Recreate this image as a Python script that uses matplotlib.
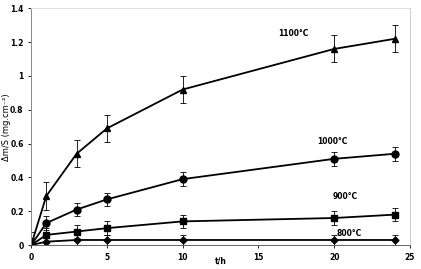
import matplotlib.pyplot as plt
from matplotlib.ticker import FormatStrFormatter

# time (h)
t = [0, 1, 3, 5, 10, 20, 24]

# mass gain per area (mg.cm-2) for each temperature
m_1100 = [0.0, 0.29, 0.54, 0.69, 0.92, 1.16, 1.22]
m_1000 = [0.0, 0.13, 0.21, 0.27, 0.39, 0.51, 0.54]
m_900 = [0.0, 0.06, 0.08, 0.10, 0.14, 0.16, 0.18]
m_800 = [0.0, 0.02, 0.03, 0.03, 0.03, 0.03, 0.03]

err_1100 = [0.08, 0.08, 0.08, 0.08, 0.08, 0.08, 0.08]
err_1000 = [0.04, 0.04, 0.04, 0.04, 0.04, 0.04, 0.04]
err_900 = [0.04, 0.04, 0.04, 0.04, 0.04, 0.04, 0.04]
err_800 = [0.03, 0.03, 0.03, 0.03, 0.03, 0.03, 0.03]

labels = ["1100°C", "1000°C", "900°C", "800°C"]
label_pos = [(17.3, 1.25), (19.9, 0.61), (20.7, 0.29), (21.0, 0.07)]

series = [(m_1100, err_1100, "^", 5), (m_1000, err_1000, "o", 5),
          (m_900, err_900, "s", 4.5), (m_800, err_800, "D", 3.5)]

fig = plt.figure(figsize=(4.21, 2.69), dpi=100)
ax = fig.add_axes([0.074, 0.089, 0.90, 0.88])

for (m, e, mk, ms), lab, pos in zip(series, labels, label_pos):
    ax.errorbar(t, m, yerr=e, color="black", marker=mk, markersize=ms,
                linewidth=1.3, elinewidth=0.6, capsize=2, capthick=0.6)
    ax.text(pos[0], pos[1], lab, fontsize=5.5, fontweight="bold",
            ha="center", va="center")

ax.set_xlim(0, 25)
ax.set_ylim(0, 1.4)
ax.set_xticks([0, 5, 10, 15, 20, 25])
ax.set_yticks([0, 0.2, 0.4, 0.6, 0.8, 1.0, 1.2, 1.4])
ax.yaxis.set_major_formatter(FormatStrFormatter("%g"))
ax.tick_params(labelsize=5.5, length=2, width=0.6)
for lbl in ax.get_xticklabels() + ax.get_yticklabels():
    lbl.set_fontweight("bold")

ax.set_xlabel("t/h", fontsize=5.5, fontweight="bold")
ax.xaxis.set_label_coords(0.5, -0.05)
ax.set_ylabel("Δm/S (mg.cm⁻²)", fontsize=6)
ax.yaxis.set_label_coords(-0.052, 0.5)

ax.spines["left"].set_color("#888888")
ax.spines["bottom"].set_color("#666666")
ax.spines["top"].set_color("#dddddd")
ax.spines["right"].set_color("#cccccc")
for s in ax.spines.values():
    s.set_linewidth(0.7)

plt.savefig("out.png", dpi=100)
